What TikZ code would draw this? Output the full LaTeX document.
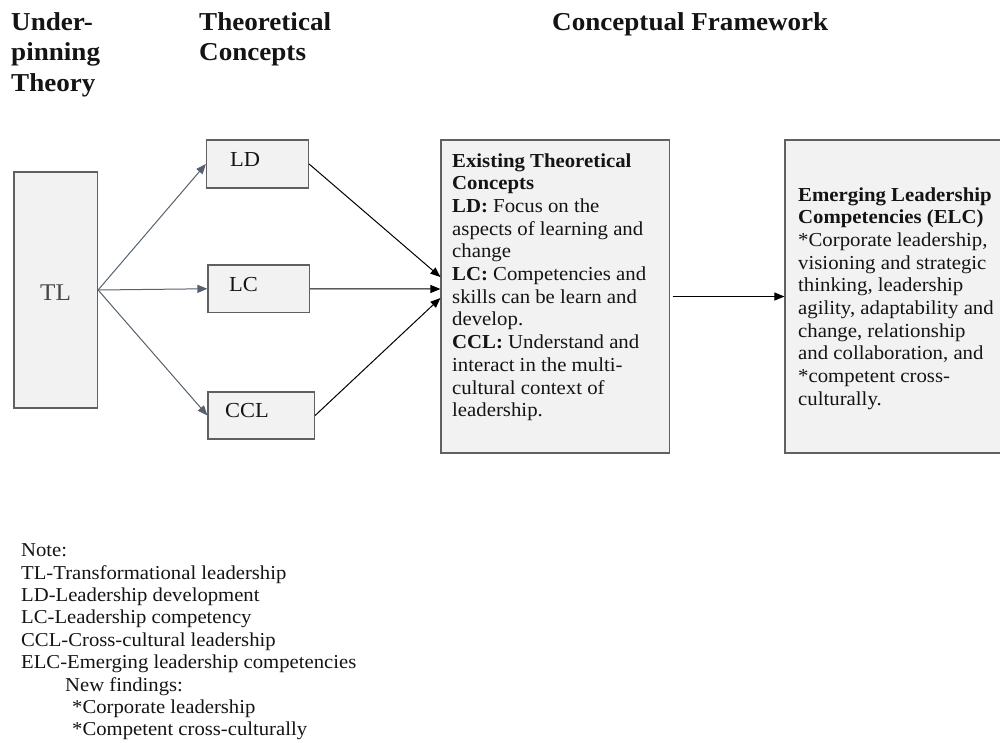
\documentclass[tikz,border=0pt]{standalone}
\usepackage{fontspec}
\setmainfont{Liberation Serif}[FakeStretch=1.05]
\usetikzlibrary{arrows.meta,calc}
\definecolor{boxfill}{HTML}{F2F2F2}
\definecolor{boxline}{HTML}{606060}
\definecolor{slate}{HTML}{56606E}
\definecolor{ink}{HTML}{141414}

\begin{document}
\begin{tikzpicture}[x=1pt,y=-1pt,
  box/.style={draw=boxline, fill=boxfill, line width=1.2pt, inner sep=0pt},
  % multi-line texts are placed by the baseline of their last line
  body/.style={inner sep=0pt, anchor=base west, align=left, text=ink,
    font=\fontsize{19.8}{22.7}\selectfont},
  note/.style={inner sep=0pt, anchor=base west, align=left, text=ink,
    font=\fontsize{19.7}{22.4}\selectfont},
  head/.style={inner sep=0pt, anchor=base west, align=left, text=ink,
    font=\fontsize{25.8}{30.5}\selectfont\bfseries},
  tag/.style={inner sep=0pt, anchor=base west, text=ink,
    font=\fontsize{21.4}{24}\selectfont},
  feed/.style={draw=slate, line width=1pt, -{Triangle[length=10pt,width=8pt]}},
  link/.style={draw=black, line width=1pt, -{Triangle[length=10pt,width=8pt]}},
]
\useasboundingbox (0,0) rectangle (1000,742);

% column headings
\node[head] (hUnder) at (11,91) {Under-\\pinning\\Theory};
\node[head] (hTheo) at (199,60.5) {Theoretical\\Concepts};
\node[head] (hConc) at (552,30) {Conceptual Framework};

% boxes
\node[box, minimum width=83.5pt, minimum height=236pt] (TL) at (55.75,290) {};
\node[box, minimum width=102pt, minimum height=48pt] (LD) at (257.5,164) {};
\node[box, minimum width=101.5pt, minimum height=47.5pt] (LC) at (258.75,288.75) {};
\node[box, minimum width=106.5pt, minimum height=47pt] (CCL) at (261.25,415.5) {};
\node[box, minimum width=228.5pt, minimum height=313pt] (Ex) at (555.25,296.5) {};
\node[box, minimum width=220pt, minimum height=313pt] (ELC) at (895,296.5) {};

% box labels
\node[inner sep=0pt, anchor=base, text=black!72, font=\fontsize{24}{28}\selectfont] (tTL) at (55.5,300) {TL};
\node[tag] (tLD) at (230,166) {LD};
\node[tag] (tLC) at (229,291) {LC};
\node[tag] (tCCL) at (225,417) {CCL};

\node[body] (tEx) at (452,416.7) {\textbf{Existing Theoretical}\\
\textbf{Concepts}\\
\textbf{LD:} Focus on the\\
aspects of learning and\\
change\\
\textbf{LC:} Competencies and\\
skills can be learn and\\
develop.\\
\textbf{CCL:} Understand and\\
interact in the multi-\\
cultural context of\\
leadership.};

\node[body] (tELC) at (798,405.3) {\textbf{Emerging Leadership}\\
\textbf{Competencies (ELC)}\\
*Corporate leadership,\\
visioning and strategic\\
thinking, leadership\\
agility, adaptability and\\
change, relationship\\
and collaboration, and\\
*competent cross-\\
culturally.};

% connectors
\draw[feed] (TL.east) -- (LD.west);
\draw[feed] (TL.east) -- (LC.west);
\draw[feed] (TL.east) -- (CCL.west);
\draw[link] (LD.east) -- ([yshift=19.5pt]Ex.west);
\draw[link] (LC.east) -- ([yshift=7.5pt]Ex.west);
\draw[link] (CCL.east) -- ([yshift=-1.5pt]Ex.west);
\draw[link, shorten <=2.5pt] (Ex.east) -- (ELC.west);

% abbreviations
\node[note] (notes) at (21,735.9) {Note:\\
TL-Transformational leadership\\
LD-Leadership development\\
LC-Leadership competency\\
CCL-Cross-cultural leadership\\
ELC-Emerging leadership competencies\\
\hspace*{44pt}New findings:\\
\hspace*{51pt}*Corporate leadership\\
\hspace*{51pt}*Competent cross-culturally};
\end{tikzpicture}
\end{document}
